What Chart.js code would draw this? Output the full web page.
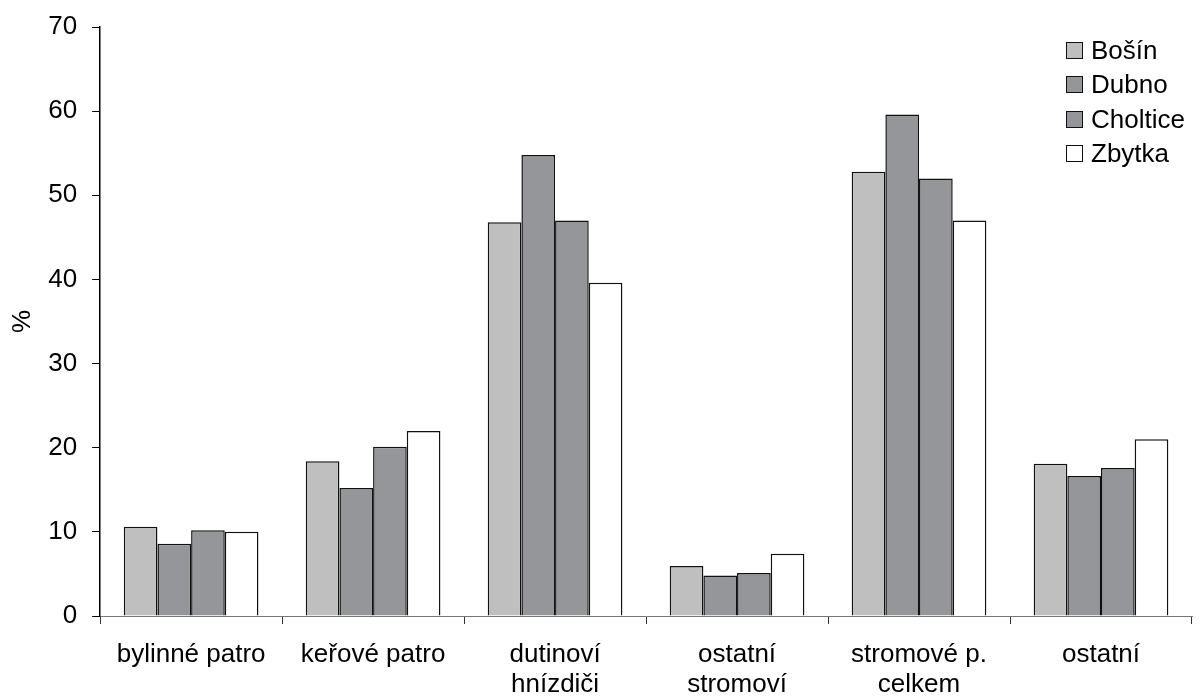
<!DOCTYPE html>
<html>
<head>
<meta charset="utf-8">
<script src="https://cdn.jsdelivr.net/npm/chart.js@4"></script>
<style>
  body { margin: 0; background: #fff; }
  #wrap { position: relative; width: 1203px; height: 697px; }
  #legend { position: absolute; left: 1066px; top: 33px; font-family: "Liberation Sans", Arial, sans-serif; font-size: 26px; color: #000; }
  #legend div { height: 34.5px; display: flex; align-items: center; }
  #legend span.box { display: inline-block; box-sizing: border-box; width: 17px; height: 17px; border: 1.5px solid #111; margin-right: 8px; }
</style>
</head>
<body>
<div id="wrap">
  <canvas id="chart" width="1203" height="697"></canvas>
  <div id="legend"></div>
</div>
<script>
const categories = ['bylinné patro', 'keřové patro', ['dutinoví', 'hnízdiči'], ['ostatní', 'stromoví'], ['stromové p.', 'celkem'], 'ostatní'];
const seriesNames = ['Bošín', 'Dubno', 'Choltice', 'Zbytka'];
const bosin = [10.6, 18.4, 46.8, 5.95, 52.8, 18.1];
const dubno = [8.6, 15.2, 54.8, 4.8, 59.6, 16.65];
const choltice = [10.2, 20.1, 47.0, 5.1, 52.0, 17.6];
const zbytka = [10.0, 22.0, 39.6, 7.4, 47.0, 21.0];
const colors = ['#bfbfbf', '#95969a', '#95969a', '#ffffff'];
const yTicks = [0, 10, 20, 30, 40, 50, 60, 70];

const font = { family: '"Liberation Sans", Arial, sans-serif', size: 26 };
const xFont = { family: '"Liberation Sans", Arial, sans-serif', size: 26, lineHeight: 1.15 };

const datasets = [bosin, dubno, choltice, zbytka].map(function (values, i) {
    return {
        label: seriesNames[i],
        data: values,
        backgroundColor: colors[i],
        borderColor: '#111',
        borderWidth: 1.5,
        barPercentage: 1,
        categoryPercentage: 0.74
    };
});

new Chart(document.getElementById('chart'), {
    type: 'bar',
    data: { labels: categories, datasets: datasets },
    options: {
        responsive: false,
        animation: false,
        layout: { padding: { top: 27, right: 11, left: 0, bottom: 0 } },
        plugins: { legend: { display: false }, tooltip: { enabled: false } },
        scales: {
            x: {
                afterFit: function (axis) { axis.height = 81; },
                border: { color: '#777', width: 1 },
                grid: { offset: true, drawOnChartArea: false, color: '#333', tickLength: 8 },
                ticks: { color: '#000', font: xFont, padding: 16, maxRotation: 0, autoSkip: false }
            },
            y: {
                min: 0,
                max: 70,
                afterBuildTicks: function (axis) { axis.ticks = yTicks.map(v => ({ value: v })); },
                afterFit: function (axis) { axis.paddingTop = 0; axis.paddingBottom = 0; },
                border: { color: '#000', width: 1.5 },
                grid: { drawOnChartArea: false, color: '#000', tickLength: 8 },
                ticks: { color: '#000', font: font, padding: 15 },
                title: { display: true, text: '%', color: '#000', font: font, padding: { top: 7, bottom: -5 } }
            }
        }
    }
});

const legend = document.getElementById('legend');
seriesNames.forEach(function (name, i) {
    const row = document.createElement('div');
    row.innerHTML = '<span class="box" style="background:' + colors[i] + '"></span>' + name;
    legend.appendChild(row);
});
</script>
</body>
</html>
